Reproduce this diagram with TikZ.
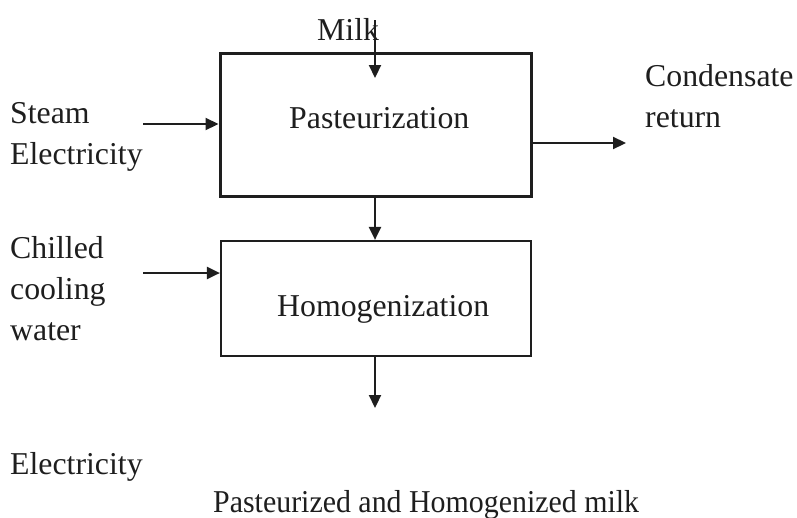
\documentclass[tikz,border=0pt]{standalone}
\usepackage{fontspec}
\setmainfont{Liberation Serif}
\usetikzlibrary{arrows.meta}
\definecolor{ink}{HTML}{1E1E1E}
\tikzset{
  boxthick/.style={draw=ink, line width=3pt, inner sep=0pt},
  boxthin/.style={draw=ink, line width=2.2pt, inner sep=0pt},
  lbl/.style={anchor=base west, inner sep=0pt, text=ink, font=\fontsize{31.8}{41}\selectfont, align=left},
  flow/.style={draw=ink, line width=2.2pt, -{Triangle[length=13pt,width=12pt]}},
}
\begin{document}
\begin{tikzpicture}[x=1pt,y=-1pt]
\useasboundingbox (0,0) rectangle (797,517);
% boxes
\node[boxthick, minimum width=311pt, minimum height=143pt] (past) at (375.5,124.5) {};
\node[boxthin, minimum width=310pt, minimum height=115pt] (homo) at (376,298.5) {};
% box labels
\node[lbl] (pastlbl) at (289,128) {Pasteurization};
\node[lbl] (homolbl) at (277,316) {Homogenization};
% outside labels (base = last line)
\node[lbl] (milk) at (317,40) {Milk};
\node[lbl] (steam) at (10,164) {Steam\\Electricity};
\node[lbl] (chill) at (10,340) {Chilled\\cooling\\water};
\node[lbl] (cond) at (645,127) {Condensate\\return};
\node[lbl] (elec) at (10,474) {Electricity};
\node[lbl] (prod) at (213,512) {\scalebox{0.94}[1]{Pasteurized and Homogenized milk}};
% coordinates
\coordinate (milkstart) at (375,20);
\coordinate (milkend) at (375,78);
\coordinate (steamstart) at (143,124);
\coordinate (chillstart) at (143,273);
\coordinate (condend) at (626,143);
\coordinate (prodend) at (375,408);
% connectors
\draw[flow] (milkstart) -- (milkend);
\draw[flow] (steamstart) -- (steamstart -| past.west);
\draw[flow] (chillstart) -- (chillstart -| homo.west);
\draw[flow] (condend -| past.east) -- (condend);
\draw[flow] (milkstart |- past.south) -- (milkstart |- homo.north);
\draw[flow] (milkstart |- homo.south) -- (prodend);
\end{tikzpicture}
\end{document}
